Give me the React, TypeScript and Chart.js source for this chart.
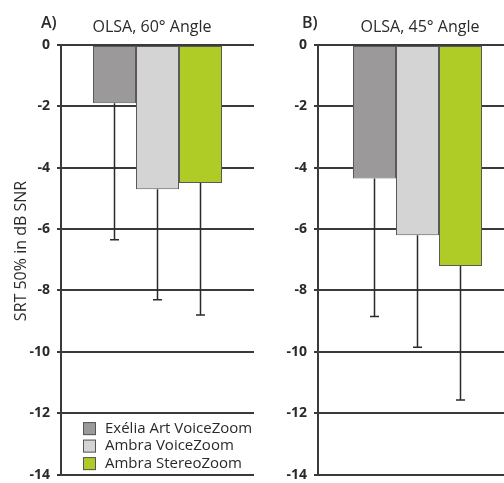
import React, { useEffect, useRef } from "react";
import { Chart, registerables } from "chart.js";

Chart.register(...registerables);

// ---- data ----
const SERIES = ["Exélia Art VoiceZoom", "Ambra VoiceZoom", "Ambra StereoZoom"];
const COLORS = ["#9b9999", "#d5d4d4", "#afcb26"];

const LETTER_A = "A)";
const TITLE_A = "OLSA, 60° Angle";
const MEAN_A = [-1.9, -4.7, -4.5];
const LOW_A = [-6.35, -8.3, -8.8];

const LETTER_B = "B)";
const TITLE_B = "OLSA, 45° Angle";
const MEAN_B = [-4.35, -6.2, -7.2];
const LOW_B = [-8.85, -9.85, -11.57];

const Y_MIN = -14;
const Y_MAX = 0;
const Y_STEP = 2;
const Y_TITLE = "SRT 50% in dB SNR";

const FONT = "'Open Sans', 'DejaVu Sans', sans-serif";
const INK = "#2a2a2a";
const GRID = "#3a3a3a";

type PanelProps = {
  letter: string;
  title: string;
  means: number[];
  lows: number[];
  showYTitle: boolean;
  showLegend: boolean;
  left: number;
  width: number;
  catPct: number;
  letterX: number;
  titleX: number;
};

function Panel(p: PanelProps) {
  const ref = useRef<HTMLCanvasElement | null>(null);
  useEffect(() => {
    const canvas = ref.current;
    if (!canvas) return;

    const errorBars = {
      id: "errorBars",
      afterDatasetsDraw(chart: any) {
        const ctx = chart.ctx;
        const ys = chart.scales.y;
        ctx.save();
        ctx.strokeStyle = INK;
        ctx.lineWidth = 1.5;
        chart.data.datasets.forEach((_ds: any, i: number) => {
          const meta = chart.getDatasetMeta(i);
          const bar = meta.data[0];
          if (!bar) return;
          const x = bar.x;
          const y0 = bar.y;
          const y1 = ys.getPixelForValue(p.lows[i]);
          ctx.beginPath();
          ctx.moveTo(x, y0);
          ctx.lineTo(x, y1);
          ctx.moveTo(x - 4.5, y1);
          ctx.lineTo(x + 4.5, y1);
          ctx.stroke();
        });
        ctx.restore();
      },
    };

    const texts = {
      id: "texts",
      afterDraw(chart: any) {
        const ctx = chart.ctx;
        ctx.save();
        ctx.fillStyle = INK;
        ctx.textBaseline = "middle";
        ctx.font = `600 16px ${FONT}`;
        ctx.textAlign = "left";
        ctx.fillText(p.letter, p.letterX, 23);
        ctx.font = `500 16px ${FONT}`;
        ctx.textAlign = "center";
        ctx.fillText(p.title, p.titleX, 27);

        if (p.showYTitle) {
          ctx.save();
          ctx.translate(21, 251);
          ctx.rotate(-Math.PI / 2);
          ctx.font = `500 16px ${FONT}`;
          ctx.textAlign = "center";
          ctx.fillText(Y_TITLE, 0, 0);
          ctx.restore();
        }

        if (p.showLegend) {
          const { left, bottom } = chart.chartArea;
          const boxX = left + 22;
          const rowY0 = bottom - 46;
          const gap = 17.5;
          ctx.font = `500 15px ${FONT}`;
          ctx.textAlign = "left";
          chart.data.datasets.forEach((ds: any, i: number) => {
            const cy = rowY0 + i * gap;
            ctx.fillStyle = ds.backgroundColor;
            ctx.fillRect(boxX, cy - 6.5, 13, 13);
            ctx.strokeStyle = "#555";
            ctx.lineWidth = 1;
            ctx.strokeRect(boxX + 0.5, cy - 6, 12, 12);
            ctx.fillStyle = INK;
            ctx.fillText(ds.label, boxX + 22, cy);
          });
        }
        ctx.restore();
      },
    };

    const chart = new Chart(canvas, {
      type: "bar",
      data: {
        labels: [""],
        datasets: SERIES.map((name, i) => ({
          label: name,
          data: [p.means[i]],
          backgroundColor: COLORS[i],
          borderColor: "#5a5a5a",
          borderWidth: 1,
          borderSkipped: false,
        })),
      },
      options: {
        responsive: false,
        animation: false,
        categoryPercentage: p.catPct,
        barPercentage: 1,
        layout: { padding: { left: 0, right: 4, top: 45, bottom: 13 } },
        plugins: {
          legend: { display: false },
          tooltip: { enabled: false },
          title: { display: false },
        },
        scales: {
          x: { display: false },
          y: {
            min: Y_MIN,
            max: Y_MAX,
            afterFit: (s: any) => {
              s.width = 61;
            },
            ticks: {
              stepSize: Y_STEP,
              color: INK,
              padding: 7,
              font: { family: FONT, size: 14, weight: "bold" },
            },
            grid: { color: GRID, lineWidth: 2, tickLength: 4, drawTicks: true },
            border: { display: true, color: GRID, width: 2 },
          },
        },
      } as any,
      plugins: [errorBars, texts],
    });
    return () => chart.destroy();
  }, []);

  return (
    <canvas
      ref={ref}
      width={p.width}
      height={490}
      style={{ position: "absolute", left: p.left, top: 0, display: "block" }}
    />
  );
}

export default function App() {
  return (
    <div
      style={{
        position: "absolute",
        left: 0,
        top: 0,
        width: 504,
        height: 483,
        overflow: "hidden",
        background: "#fff",
      }}
    >
      <Panel
        letter={LETTER_A}
        title={TITLE_A}
        means={MEAN_A}
        lows={LOW_A}
        showYTitle={true}
        showLegend={true}
        left={0}
        width={258}
        catPct={129 / 193}
        letterX={41}
        titleX={152}
      />
      <Panel
        letter={LETTER_B}
        title={TITLE_B}
        means={MEAN_B}
        lows={LOW_B}
        showYTitle={false}
        showLegend={false}
        left={257}
        width={264}
        catPct={129 / 199}
        letterX={45}
        titleX={163}
      />
    </div>
  );
}
